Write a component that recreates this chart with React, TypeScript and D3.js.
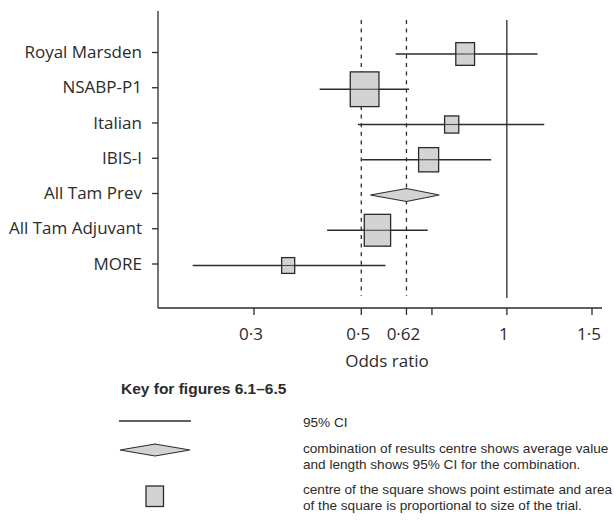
import React from "react";
import * as d3 from "d3";

const trials = ["Royal Marsden", "NSABP-P1", "Italian", "IBIS-I", "All Tam Prev", "All Tam Adjuvant", "MORE"];
const estimate = [0.82, 0.508, 0.769, 0.689, 0.62, 0.54, 0.353];
const ciLow = [0.589, 0.41, 0.492, 0.502, 0.522, 0.425, 0.224];
const ciHigh = [1.157, 0.628, 1.195, 0.928, 0.725, 0.686, 0.561];
// relative trial weight (square area proportional); 0 = pooled (diamond)
const weight = [3.5, 8.2, 2.0, 4.0, 0, 6.9, 1.7];
const isPooled = [false, false, false, false, true, false, false];
const xTicks = [0.3, 0.5, 0.62, 0.7, 1, 1.5];
const xTickLabels = ["0·3", "0·5", "0·62", "", "1", "1·5"];
const dashedRefs = [0.5, 0.62];
const solidRef = 1;
const legendTitle = "Key for figures 6.1–6.5";
const legendItems = [
  ["95% CI"],
  ["combination of results centre shows average value", "and length shows 95% CI for the combination."],
  ["centre of the square shows point estimate and area", "of the square is proportional to size of the trial."],
];

const W = 614;
const H = 522;
const ink = "#2b2b2b";
const fill = "#d3d3d3";
const axisFont = "'Open Sans', 'Liberation Sans', Arial, sans-serif";
const legendFont = "'Liberation Sans', Arial, sans-serif";

export default function App() {
  const axisLeft = 158;
  const axisRight = 602;
  const axisTop = 11;
  const axisBottom = 308;

  const x = d3.scaleLog().domain([0.3, 1.5]).range([254, 592]);
  const y = d3.scaleLinear().domain([0, 6]).range([54, 265.5]);
  const side = d3.scaleSqrt().domain([0, 8.2]).range([0, 28.7]);
  const aspect = 1.21;

  const diamondPath = (lo: number, mid: number, hi: number, cy: number, h: number) =>
    d3.line()([
      [x(lo), cy],
      [x(mid), cy - h / 2],
      [x(hi), cy],
      [x(mid), cy + h / 2],
    ]) + "Z";

  return (
    <svg width={W} height={H} style={{ position: "absolute", left: 0, top: 0, background: "#fff" }}>
      {/* reference lines */}
      {dashedRefs.map((v) => (
        <line key={v} x1={x(v)} x2={x(v)} y1={20} y2={296} stroke={ink} strokeWidth={1.3} strokeDasharray="4,4.6" />
      ))}
      <line x1={x(solidRef)} x2={x(solidRef)} y1={20} y2={298} stroke={ink} strokeWidth={1.3} />

      {/* axes */}
      <line x1={axisLeft} x2={axisLeft} y1={axisTop} y2={axisBottom} stroke={ink} strokeWidth={1.3} />
      <line x1={axisLeft} x2={axisRight} y1={axisBottom} y2={axisBottom} stroke={ink} strokeWidth={1.3} />
      <g fontFamily={axisFont} fontSize={17} fill={ink}>
        {xTicks.map((t, i) => (
          <g key={t}>
            <line x1={x(t)} x2={x(t)} y1={axisBottom} y2={axisBottom + 7} stroke={ink} strokeWidth={1.3} />
            <text x={x(t) - 3} y={340} textAnchor="middle">
              {xTickLabels[i]}
            </text>
          </g>
        ))}
        <text x={387} y={367} textAnchor="middle">
          Odds ratio
        </text>
        {trials.map((t, i) => (
          <g key={t}>
            <line x1={axisLeft - 6} x2={axisLeft} y1={y(i) - 1.5} y2={y(i) - 1.5} stroke={ink} strokeWidth={1.3} />
            <text x={142} y={y(i) + 4} textAnchor="end">
              {t}
            </text>
          </g>
        ))}
      </g>

      {/* marks */}
      {trials.map((t, i) => {
        const cy = y(i);
        if (isPooled[i]) {
          return (
            <path key={t} d={diamondPath(ciLow[i], estimate[i], ciHigh[i], cy, 13)} fill={fill} stroke={ink} strokeWidth={1.2} />
          );
        }
        const w = side(weight[i]);
        const h = w * aspect;
        return (
          <g key={t}>
            <line x1={x(ciLow[i])} x2={x(ciHigh[i])} y1={cy} y2={cy} stroke={ink} strokeWidth={1.3} />
            <rect x={x(estimate[i]) - w / 2} y={cy - h / 2} width={w} height={h} fill={fill} stroke={ink} strokeWidth={1.3} />
            <line x1={x(estimate[i]) - w / 2} x2={x(estimate[i]) + w / 2} y1={cy} y2={cy} stroke={ink} strokeWidth={1.1} opacity={0.8} />
          </g>
        );
      })}

      {/* legend */}
      <g fontFamily={legendFont} fill={ink}>
        <text x={121} y={394} fontSize={15.5} fontWeight="bold">
          {legendTitle}
        </text>
        <line x1={119} x2={191} y1={421} y2={421} stroke={ink} strokeWidth={1.3} />
        <path d="M120,450L155,444L190,450L155,456Z" fill={fill} stroke={ink} strokeWidth={1.2} />
        <rect x={146} y={486} width={17.5} height={20.5} fill={fill} stroke={ink} strokeWidth={1.3} />
        {legendItems.map((lines, k) =>
          lines.map((s, j) => (
            <text key={k + "-" + j} x={303} y={[426.5, 452.5, 493.5][k] + j * 16.5} fontSize={13.6}>
              {s}
            </text>
          ))
        )}
      </g>
    </svg>
  );
}
